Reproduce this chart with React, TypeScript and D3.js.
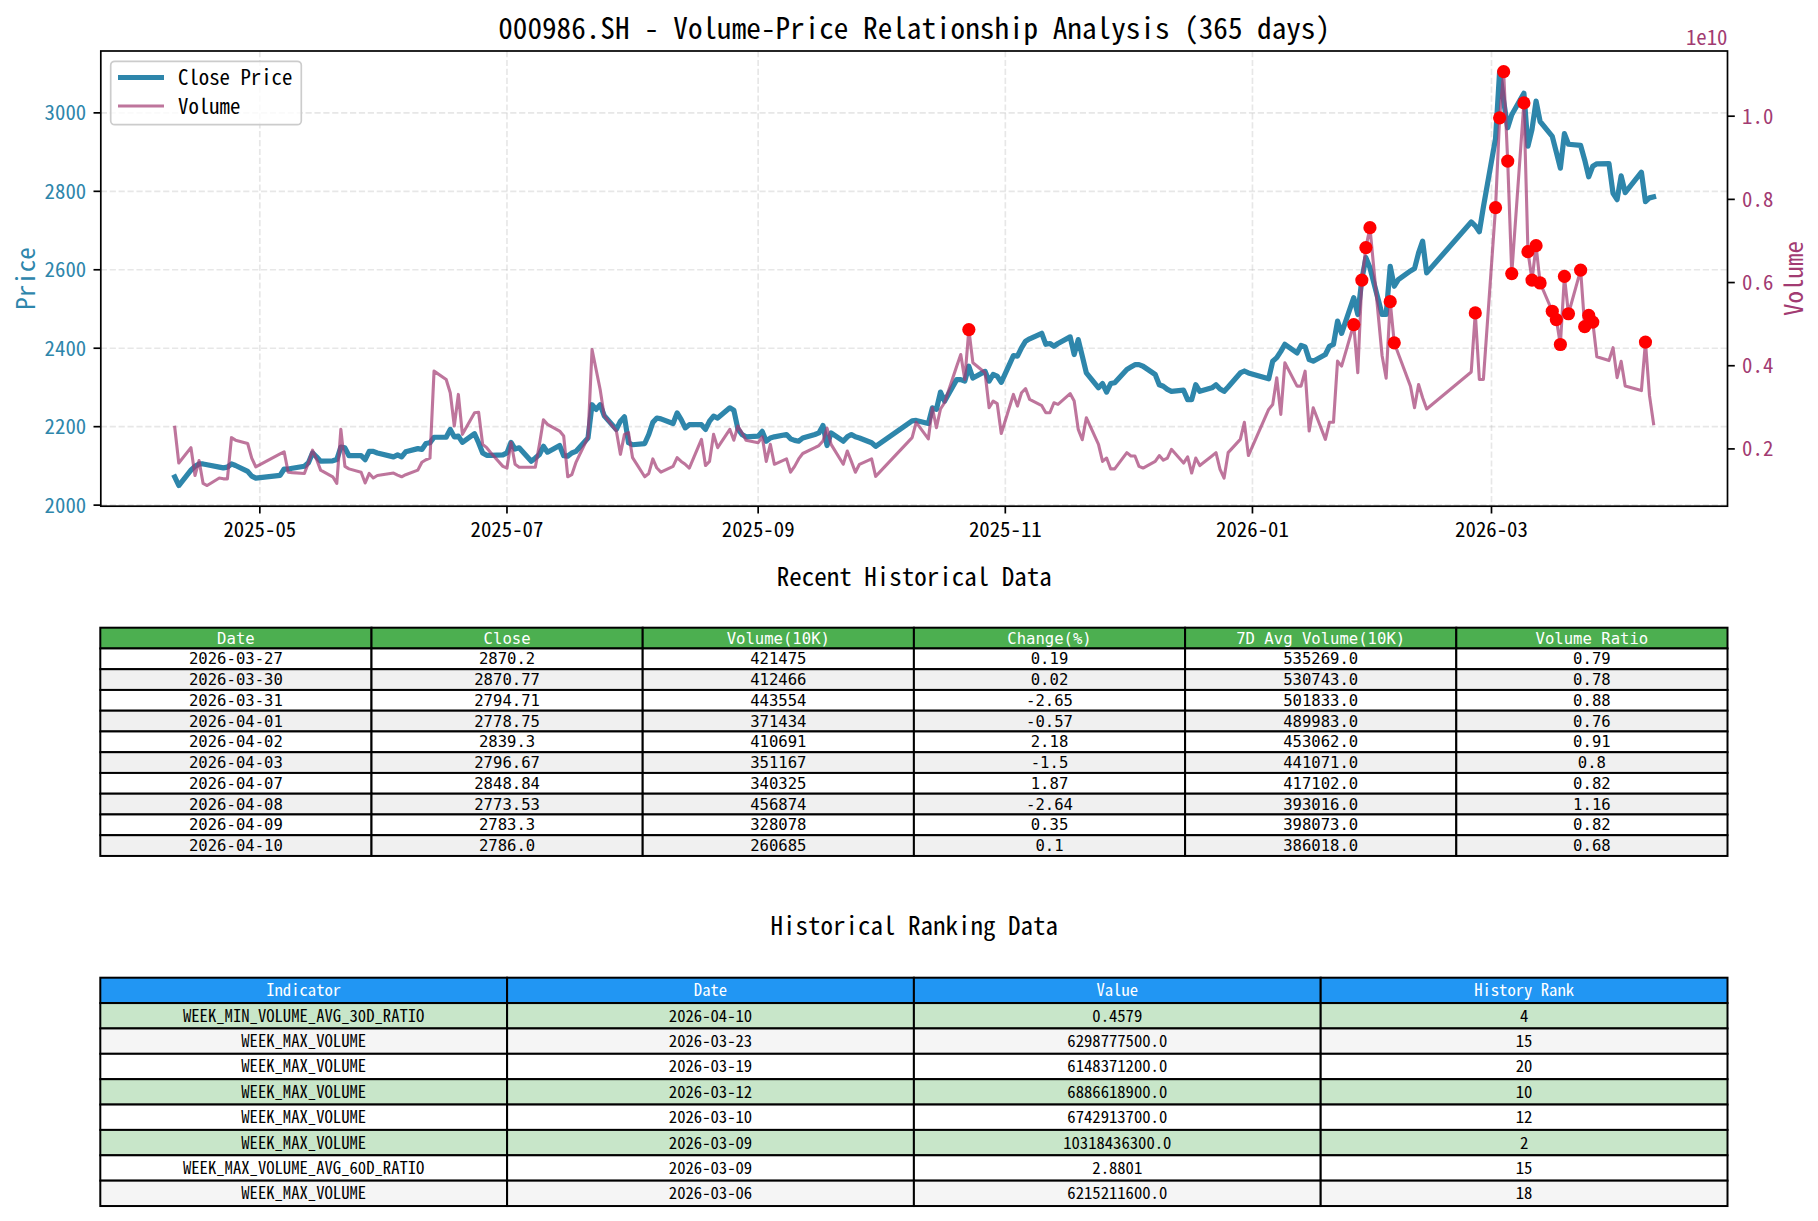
import React, { useEffect, useRef } from 'react';
import * as d3 from 'd3';

const W = 1818, H = 1221;
const FONT = '"Noto Sans Mono CJK SC", "DejaVu Sans Mono", monospace';
const TABLE_FONT = '"DejaVu Sans Mono", monospace';

// trading days 2025-04-10 .. 2026-04-10
const dates = [
  '2025-04-10','2025-04-11','2025-04-14','2025-04-15','2025-04-16','2025-04-17','2025-04-18','2025-04-21','2025-04-22','2025-04-23','2025-04-24','2025-04-25','2025-04-28','2025-04-29','2025-04-30',
  '2025-05-06','2025-05-07','2025-05-08','2025-05-09','2025-05-12','2025-05-13','2025-05-14','2025-05-15','2025-05-16','2025-05-19','2025-05-20','2025-05-21','2025-05-22','2025-05-23','2025-05-26','2025-05-27','2025-05-28','2025-05-29','2025-05-30',
  '2025-06-03','2025-06-04','2025-06-05','2025-06-06','2025-06-09','2025-06-10','2025-06-11','2025-06-12','2025-06-13','2025-06-16','2025-06-17','2025-06-18','2025-06-19','2025-06-20','2025-06-23','2025-06-24','2025-06-25','2025-06-26','2025-06-27','2025-06-30',
  '2025-07-01','2025-07-02','2025-07-03','2025-07-04','2025-07-07','2025-07-08','2025-07-09','2025-07-10','2025-07-11','2025-07-14','2025-07-15','2025-07-16','2025-07-17','2025-07-18','2025-07-21','2025-07-22','2025-07-23','2025-07-24','2025-07-25','2025-07-28','2025-07-29','2025-07-30','2025-07-31',
  '2025-08-01','2025-08-04','2025-08-05','2025-08-06','2025-08-07','2025-08-08','2025-08-11','2025-08-12','2025-08-13','2025-08-14','2025-08-15','2025-08-18','2025-08-19','2025-08-20','2025-08-21','2025-08-22','2025-08-25','2025-08-26','2025-08-27','2025-08-28','2025-08-29',
  '2025-09-01','2025-09-02','2025-09-03','2025-09-04','2025-09-05','2025-09-08','2025-09-09','2025-09-10','2025-09-11','2025-09-12','2025-09-15','2025-09-16','2025-09-17','2025-09-18','2025-09-19','2025-09-22','2025-09-23','2025-09-24','2025-09-25','2025-09-26','2025-09-29','2025-09-30',
  '2025-10-09','2025-10-10','2025-10-13','2025-10-14','2025-10-15','2025-10-16','2025-10-17','2025-10-20','2025-10-21','2025-10-22','2025-10-23','2025-10-24','2025-10-27','2025-10-28','2025-10-29','2025-10-30','2025-10-31',
  '2025-11-03','2025-11-04','2025-11-05','2025-11-06','2025-11-07','2025-11-10','2025-11-11','2025-11-12','2025-11-13','2025-11-14','2025-11-17','2025-11-18','2025-11-19','2025-11-20','2025-11-21','2025-11-24','2025-11-25','2025-11-26','2025-11-27','2025-11-28',
  '2025-12-01','2025-12-02','2025-12-03','2025-12-04','2025-12-05','2025-12-08','2025-12-09','2025-12-10','2025-12-11','2025-12-12','2025-12-15','2025-12-16','2025-12-17','2025-12-18','2025-12-19','2025-12-22','2025-12-23','2025-12-24','2025-12-25','2025-12-26','2025-12-29','2025-12-30','2025-12-31',
  '2026-01-05','2026-01-06','2026-01-07','2026-01-08','2026-01-09','2026-01-12','2026-01-13','2026-01-14','2026-01-15','2026-01-16','2026-01-19','2026-01-20','2026-01-21','2026-01-22','2026-01-23','2026-01-26','2026-01-27','2026-01-28','2026-01-29','2026-01-30',
  '2026-02-02','2026-02-03','2026-02-04','2026-02-05','2026-02-06','2026-02-09','2026-02-10','2026-02-11','2026-02-12','2026-02-13','2026-02-24','2026-02-25','2026-02-26','2026-02-27',
  '2026-03-02','2026-03-03','2026-03-04','2026-03-05','2026-03-06','2026-03-09','2026-03-10','2026-03-11','2026-03-12','2026-03-13','2026-03-16','2026-03-17','2026-03-18','2026-03-19','2026-03-20','2026-03-23','2026-03-24','2026-03-25','2026-03-26','2026-03-27','2026-03-30','2026-03-31',
  '2026-04-01','2026-04-02','2026-04-03','2026-04-07','2026-04-08','2026-04-09','2026-04-10',
];

const closePrice = [
  2072, 2050, 2089, 2099, 2105, 2105, 2103, 2097, 2095, 2097, 2105, 2101, 2086, 2074, 2069,
  2076, 2092, 2092, 2094, 2099, 2108, 2133, 2123, 2112, 2113, 2116, 2148, 2146, 2126, 2126, 2116, 2137, 2137, 2133,
  2123, 2128, 2123, 2136, 2144, 2142, 2157, 2159, 2173, 2173, 2193, 2174, 2176, 2160, 2182, 2159, 2133, 2127, 2127, 2128,
  2133, 2160, 2143, 2146, 2112, 2120, 2129, 2150, 2135, 2152, 2126, 2125, 2133, 2137, 2171, 2256, 2244, 2256, 2228, 2193, 2214, 2225, 2159,
  2154, 2157, 2180, 2211, 2222, 2220, 2208, 2235, 2218, 2197, 2205, 2205, 2193, 2214, 2227, 2222, 2248, 2242, 2194, 2180, 2174,
  2176, 2188, 2163, 2171, 2174, 2180, 2169, 2165, 2163, 2171, 2180, 2184, 2203, 2152, 2184, 2163, 2174, 2180, 2174, 2171, 2159, 2150,
  2215, 2216, 2208, 2248, 2244, 2288, 2265, 2320, 2320, 2316, 2354, 2324, 2341, 2316, 2333, 2329, 2313,
  2381, 2380, 2401, 2418, 2424, 2438, 2410, 2412, 2405, 2412, 2429, 2384, 2422, 2380, 2337, 2299, 2310, 2288, 2310, 2312,
  2346, 2352, 2358, 2358, 2354, 2333, 2307, 2303, 2295, 2290, 2293, 2269, 2269, 2307, 2290, 2299, 2307, 2296, 2290, 2301, 2337, 2342, 2337,
  2322, 2367, 2376, 2392, 2410, 2388, 2407, 2403, 2371, 2367, 2384, 2405, 2410, 2469, 2438, 2529, 2486, 2575, 2631, 2605,
  2486, 2486, 2609, 2558, 2575, 2597, 2603, 2643, 2673, 2592, 2722, 2712, 2697, 2760,
  2935, 3105, 3030, 2962, 2995, 3050, 2915, 2958, 3030, 2978, 2940, 2900, 2859, 2947, 2920, 2917, 2880, 2837, 2864, 2870.2, 2870.77, 2794.71,
  2778.75, 2839.3, 2796.67, 2848.84, 2773.53, 2783.3, 2786.0,
];

// volume in 10K shares
const volume10k = [
  252000, 166000, 203000, 136000, 172000, 117000, 112000, 130000, 128000, 128000, 227000, 221000, 213000, 178000, 157000,
  188000, 193000, 144000, 143000, 141000, 167000, 197000, 175000, 149000, 133000, 117000, 247000, 158000, 152000, 144000, 118000, 141000, 130000, 136000,
  142000, 137000, 133000, 138000, 149000, 168000, 174000, 178000, 387000, 367000, 335000, 255000, 331000, 235000, 287000, 288000, 211000, 203000, 191000, 158000,
  154000, 216000, 163000, 156000, 156000, 156000, 210000, 270000, 259000, 243000, 231000, 133000, 138000, 167000, 228000, 439000, 391000, 343000, 280000, 243000, 187000, 235000, 239000,
  179000, 133000, 141000, 176000, 154000, 144000, 158000, 179000, 170000, 163000, 154000, 223000, 160000, 170000, 235000, 203000, 247000, 221000, 255000, 239000, 221000,
  215000, 229000, 170000, 211000, 163000, 176000, 144000, 158000, 176000, 189000, 203000, 208000, 219000, 250000, 211000, 163000, 195000, 170000, 144000, 163000, 176000, 134000,
  227000, 264000, 224000, 299000, 251000, 296000, 311000, 399000, 427000, 367000, 487000, 407000, 383000, 299000, 315000, 309000, 237000,
  331000, 303000, 335000, 345000, 319000, 304000, 287000, 287000, 311000, 307000, 333000, 315000, 247000, 222000, 275000, 211000, 170000, 178000, 152000, 152000,
  191000, 183000, 183000, 158000, 154000, 170000, 184000, 173000, 178000, 199000, 166000, 181000, 142000, 178000, 160000, 183000, 191000, 151000, 130000, 191000, 223000, 264000, 184000,
  295000, 307000, 371000, 283000, 407000, 351000, 351000, 387000, 243000, 299000, 223000, 264000, 264000, 411000, 399000, 499000, 383000, 606000, 684000, 732000,
  424000, 370000, 554000, 455000, 429000, 351000, 299000, 355000, 323000, 296000, 385000, 527000, 367000, 367000,
  780000, 996000, 1107000, 892000, 621521, 1031844, 674291, 606000, 688662, 599000, 531000, 511000, 451000, 614837, 525000, 629878, 494000, 521000, 505000, 421475, 412466, 443554,
  371434, 410691, 351167, 340325, 456874, 328078, 260685,
];

// days flagged with abnormal volume (red dots)
const spikeDates = [
  '2025-10-23','2026-01-26','2026-01-28','2026-01-29','2026-01-30','2026-02-04','2026-02-05','2026-02-25',
  '2026-03-02','2026-03-03','2026-03-04','2026-03-05','2026-03-06','2026-03-09','2026-03-10','2026-03-11','2026-03-12','2026-03-13',
  '2026-03-16','2026-03-17','2026-03-18','2026-03-19','2026-03-20','2026-03-23','2026-03-24','2026-03-25','2026-03-26','2026-04-08',
];

const priceTicks = [2000, 2200, 2400, 2600, 2800, 3000];
const volumeTicks = [0.2, 0.4, 0.6, 0.8, 1.0]; // x 1e10

// recent table
const recentHeader = ['Date', 'Close', 'Volume(10K)', 'Change(%)', '7D Avg Volume(10K)', 'Volume Ratio'];
const recentDates = ['2026-03-27','2026-03-30','2026-03-31','2026-04-01','2026-04-02','2026-04-03','2026-04-07','2026-04-08','2026-04-09','2026-04-10'];
const recentClose = ['2870.2','2870.77','2794.71','2778.75','2839.3','2796.67','2848.84','2773.53','2783.3','2786.0'];
const recentVolume = ['421475','412466','443554','371434','410691','351167','340325','456874','328078','260685'];
const recentChange = ['0.19','0.02','-2.65','-0.57','2.18','-1.5','1.87','-2.64','0.35','0.1'];
const recentAvg7 = ['535269.0','530743.0','501833.0','489983.0','453062.0','441071.0','417102.0','393016.0','398073.0','386018.0'];
const recentRatio = ['0.79','0.78','0.88','0.76','0.91','0.8','0.82','1.16','0.82','0.68'];

// ranking table
const rankHeader = ['Indicator', 'Date', 'Value', 'History Rank'];
const rankIndicator = ['WEEK_MIN_VOLUME_AVG_30D_RATIO','WEEK_MAX_VOLUME','WEEK_MAX_VOLUME','WEEK_MAX_VOLUME','WEEK_MAX_VOLUME','WEEK_MAX_VOLUME','WEEK_MAX_VOLUME_AVG_60D_RATIO','WEEK_MAX_VOLUME'];
const rankDate = ['2026-04-10','2026-03-23','2026-03-19','2026-03-12','2026-03-10','2026-03-09','2026-03-09','2026-03-06'];
const rankValue = ['0.4579','6298777500.0','6148371200.0','6886618900.0','6742913700.0','10318436300.0','2.8801','6215211600.0'];
const rankPos = [4, 15, 20, 10, 12, 2, 15, 18];

const BLUE = '#2E86AB';
const PINK = '#A23B72';

function drawTable(g, x0, x1, y0, rowH, header, rows, fontSize, family, headFill, rowFill) {
  const colW = (x1 - x0) / header.length;
  const all = [header, ...rows];
  // cells first, text on top
  all.forEach((row, r) => {
    row.forEach((txt, c) => {
      g.append('rect')
        .attr('x', x0 + c * colW).attr('y', y0 + r * rowH)
        .attr('width', colW).attr('height', rowH)
        .attr('fill', r === 0 ? headFill : rowFill(r - 1))
        .attr('stroke', '#000').attr('stroke-width', 2);
    });
  });
  all.forEach((row, r) => {
    row.forEach((txt, c) => {
      g.append('text')
        .attr('x', x0 + c * colW + colW / 2)
        .attr('y', y0 + r * rowH + rowH / 2 + fontSize * 0.36)
        .attr('text-anchor', 'middle')
        .attr('font-family', family)
        .attr('font-size', fontSize)
        .attr('fill', r === 0 ? '#fff' : '#000')
        .text(txt);
    });
  });
}

export default function App() {
  const ref = useRef(null);

  useEffect(() => {
    const svg = d3.select(ref.current);
    svg.selectAll('*').remove();
    svg.attr('font-family', FONT);

    const parse = d3.timeParse('%Y-%m-%d');
    const data = dates.map((d, i) => ({ date: parse(d), close: closePrice[i], vol: volume10k[i] * 1e4, key: d }));

    const L = 100.8, R = 1727.5, T = 51, B = 506.2;

    // matplotlib style 5% margins
    const t0 = +data[0].date, t1 = +data[data.length - 1].date;
    const xp = (t1 - t0) * 0.05;
    const x = d3.scaleTime().domain([new Date(t0 - xp), new Date(t1 + xp)]).range([L, R]);

    const [pMin, pMax] = d3.extent(closePrice);
    const pp = (pMax - pMin) * 0.05;
    const yP = d3.scaleLinear().domain([pMin - pp, pMax + pp]).range([B, T]);

    const [vMin, vMax] = d3.extent(data, d => d.vol);
    const vp = (vMax - vMin) * 0.05;
    const yV = d3.scaleLinear().domain([vMin - vp, vMax + vp]).range([B, T]);

    // title
    svg.append('text')
      .attr('x', (L + R) / 2).attr('y', 38.5)
      .attr('text-anchor', 'middle').attr('font-size', 29.2)
      .text('000986.SH - Volume-Price Relationship Analysis (365 days)');

    const xTicks = x.ticks(d3.timeMonth.every(2));

    // grid
    const grid = svg.append('g').attr('stroke', '#b0b0b0').attr('stroke-opacity', 0.3)
      .attr('stroke-width', 1.67).attr('stroke-dasharray', '6.2,2.7');
    xTicks.forEach(t => {
      grid.append('line').attr('x1', x(t)).attr('x2', x(t)).attr('y1', T).attr('y2', B);
    });
    priceTicks.forEach(v => {
      grid.append('line').attr('x1', L).attr('x2', R).attr('y1', yP(v)).attr('y2', yP(v));
    });

    // price line
    const priceLine = d3.line().x(d => x(d.date)).y(d => yP(d.close));
    svg.append('path').datum(data)
      .attr('d', priceLine)
      .attr('fill', 'none').attr('stroke', BLUE).attr('stroke-width', 5.2)
      .attr('stroke-linejoin', 'round').attr('stroke-linecap', 'square');

    // volume line
    const volLine = d3.line().x(d => x(d.date)).y(d => yV(d.vol));
    svg.append('path').datum(data)
      .attr('d', volLine)
      .attr('fill', 'none').attr('stroke', PINK).attr('stroke-opacity', 0.7).attr('stroke-width', 3.1)
      .attr('stroke-linejoin', 'round').attr('stroke-linecap', 'square');

    // abnormal volume markers
    svg.append('g').selectAll('circle')
      .data(data.filter(d => spikeDates.includes(d.key)))
      .enter().append('circle')
      .attr('cx', d => x(d.date)).attr('cy', d => yV(d.vol))
      .attr('r', 6.6).attr('fill', 'red');

    // frame
    svg.append('rect').attr('x', L).attr('y', T).attr('width', R - L).attr('height', B - T)
      .attr('fill', 'none').attr('stroke', '#000').attr('stroke-width', 1.7);

    // bottom axis
    const ax = svg.append('g');
    xTicks.forEach(t => {
      ax.append('line').attr('x1', x(t)).attr('x2', x(t)).attr('y1', B).attr('y2', B + 7.3).attr('stroke', '#000').attr('stroke-width', 1.7);
      ax.append('text').attr('x', x(t)).attr('y', 537).attr('text-anchor', 'middle').attr('font-size', 20.8)
        .text(d3.timeFormat('%Y-%m')(t));
    });

    // left axis (price)
    priceTicks.forEach(v => {
      ax.append('line').attr('x1', L - 7.3).attr('x2', L).attr('y1', yP(v)).attr('y2', yP(v)).attr('stroke', '#000').attr('stroke-width', 1.7);
      ax.append('text').attr('x', L - 14.6).attr('y', yP(v) + 7.5).attr('text-anchor', 'end')
        .attr('font-size', 20.8).attr('fill', BLUE).text(v);
    });
    ax.append('text').attr('transform', `translate(24,${(T + B) / 2}) rotate(-90)`)
      .attr('text-anchor', 'middle').attr('dominant-baseline', 'central')
      .attr('font-size', 25).attr('fill', BLUE).text('Price');

    // right axis (volume)
    volumeTicks.forEach(v => {
      const yy = yV(v * 1e10);
      ax.append('line').attr('x1', R).attr('x2', R + 7.3).attr('y1', yy).attr('y2', yy).attr('stroke', '#000').attr('stroke-width', 1.7);
      ax.append('text').attr('x', R + 14.6).attr('y', yy + 7.5)
        .attr('font-size', 20.8).attr('fill', PINK).text(v.toFixed(1));
    });
    ax.append('text').attr('x', R).attr('y', 45).attr('text-anchor', 'end')
      .attr('font-size', 20.8).attr('fill', PINK).text('1e10');
    ax.append('text').attr('transform', `translate(1792,${(T + B) / 2}) rotate(-90)`)
      .attr('text-anchor', 'middle').attr('dominant-baseline', 'central')
      .attr('font-size', 25).attr('fill', PINK).text('Volume');

    // legend
    const lg = svg.append('g');
    lg.append('rect').attr('x', 110.7).attr('y', 61.3).attr('width', 190.6).attr('height', 63.4).attr('rx', 4)
      .attr('fill', '#fff').attr('fill-opacity', 0.8).attr('stroke', '#cccccc').attr('stroke-width', 1.7);
    lg.append('line').attr('x1', 118).attr('x2', 164).attr('y1', 77.5).attr('y2', 77.5).attr('stroke', BLUE).attr('stroke-width', 5.2);
    lg.append('line').attr('x1', 118).attr('x2', 164).attr('y1', 106).attr('y2', 106).attr('stroke', PINK).attr('stroke-opacity', 0.7).attr('stroke-width', 3.1);
    lg.append('text').attr('x', 178).attr('y', 85).attr('font-size', 20.8).text('Close Price');
    lg.append('text').attr('x', 178).attr('y', 113.5).attr('font-size', 20.8).text('Volume');

    // recent historical table
    svg.append('text').attr('x', (L + R) / 2).attr('y', 586).attr('text-anchor', 'middle').attr('font-size', 25)
      .text('Recent Historical Data');
    const recentRows = recentDates.map((d, i) => [d, recentClose[i], recentVolume[i], recentChange[i], recentAvg7[i], recentRatio[i]]);
    drawTable(svg.append('g'), L - 0.5, R, 627.7, 20.75, recentHeader, recentRows, 15.6, TABLE_FONT, '#4CAF50',
      i => (i % 2 === 1 ? '#f0f0f0' : '#ffffff'));

    // ranking table
    svg.append('text').attr('x', (L + R) / 2).attr('y', 935).attr('text-anchor', 'middle').attr('font-size', 25)
      .text('Historical Ranking Data');
    const rankRows = rankIndicator.map((d, i) => [d, rankDate[i], rankValue[i], String(rankPos[i])]);
    drawTable(svg.append('g'), L - 0.5, R, 977.7, 25.37, rankHeader, rankRows, 16.67, FONT, '#2196F3',
      i => (rankPos[i] <= 10 ? '#C8E6C9' : i % 2 === 1 ? '#f5f5f5' : '#ffffff'));
  }, []);

  return (
    <svg ref={ref} width={W} height={H}
      style={{ position: 'absolute', left: 0, top: 0, background: '#fff' }} />
  );
}
